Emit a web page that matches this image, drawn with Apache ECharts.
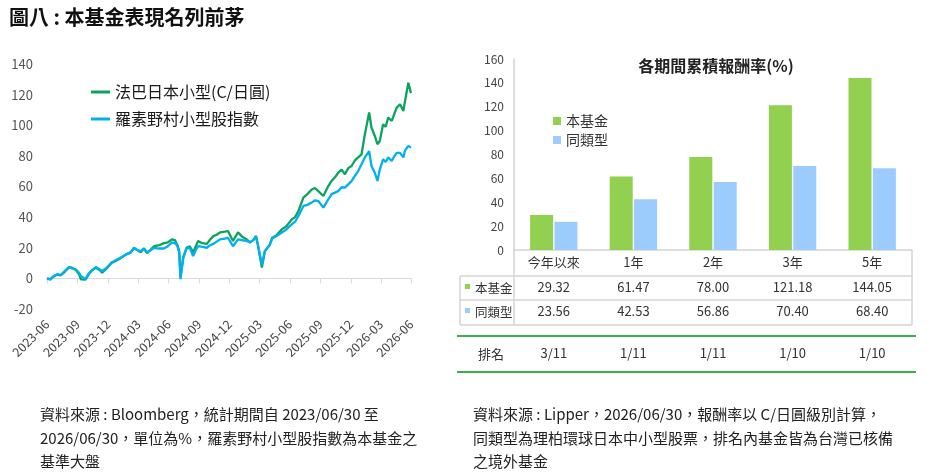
<!DOCTYPE html>
<html>
<head>
<meta charset="utf-8">
<script src="https://cdn.jsdelivr.net/npm/echarts@6/dist/echarts.min.js"></script>
<style>
  html, body { margin: 0; padding: 0; background: #fff; }
  #main { width: 928px; height: 472px; }
</style>
</head>
<body>
<div id="main"></div>
<script>
// 左圖：累積報酬走勢
var dates = [
  '2023-06-30','2023-07-10','2023-07-20','2023-07-31','2023-08-10','2023-08-21','2023-09-04','2023-09-15','2023-09-25','2023-10-05','2023-10-10','2023-10-24','2023-11-02','2023-11-10','2023-11-24','2023-12-05','2023-12-13','2023-12-27',
  '2024-01-10','2024-01-24','2024-02-07','2024-02-22','2024-03-08','2024-03-18','2024-03-28','2024-04-07','2024-04-17','2024-04-26','2024-05-08','2024-05-17','2024-05-31','2024-06-16','2024-06-28','2024-07-10','2024-07-19','2024-07-26','2024-08-01','2024-08-05','2024-08-13','2024-08-23','2024-09-02','2024-09-12','2024-09-20','2024-09-27','2024-10-10','2024-10-23','2024-11-01','2024-11-12','2024-11-22','2024-12-02','2024-12-16','2024-12-26',
  '2025-01-10','2025-01-25','2025-02-09','2025-02-20','2025-03-02','2025-03-12','2025-03-20','2025-03-26','2025-04-07','2025-04-16','2025-05-01','2025-05-08','2025-05-20','2025-06-06','2025-06-20','2025-07-06','2025-07-16','2025-07-26','2025-08-10','2025-08-22','2025-09-04','2025-09-14','2025-09-24','2025-10-09','2025-10-24','2025-11-03','2025-11-13','2025-11-23','2025-12-03','2025-12-13','2025-12-23',
  '2026-01-02','2026-01-12','2026-01-22','2026-02-01','2026-02-11','2026-02-24','2026-03-03','2026-03-13','2026-03-21','2026-03-28','2026-04-07','2026-04-15','2026-04-22','2026-05-03','2026-05-10','2026-05-18','2026-05-28','2026-06-07','2026-06-12','2026-06-22','2026-06-30'
];
var fundLine = [
  0, -0.5, 1.5, 2.5, 2.0, 4.0, 7.2, 6.5, 5.5, 2.5, -0.6, -0.8, 2.5, 4.8, 7.0, 5.5, 3.8, 6.5,
  10.0, 11.5, 13.2, 15.5, 17.0, 19.5, 18.5, 17.0, 19.5, 16.5, 19.0, 21.0, 21.5, 23.0, 23.5, 25.5, 25.0, 22.0, 18.0, 1.0, 13.0, 20.0, 21.0, 17.0, 21.0, 24.4, 23.0, 22.5, 25.0, 27.6, 28.5, 30.0, 30.5, 30.9,
  24.4, 30.0, 26.8, 25.5, 23.5, 25.0, 27.6, 22.0, 7.0, 17.8, 22.0, 26.6, 28.0, 32.0, 34.0, 38.5, 40.0, 44.0, 52.7, 55.0, 58.0, 59.0, 57.0, 53.8, 60.3, 63.6, 66.0, 69.0, 71.0, 68.0, 72.0,
  73.4, 77.0, 79.0, 81.0, 94.0, 108.3, 98.5, 93.0, 87.6, 89.7, 100.6, 99.0, 105.0, 102.8, 107.0, 111.5, 113.7, 109.3, 115.8, 127.8, 121.0
];
var indexLine = [
  0, -0.8, 1.2, 2.8, 2.2, 4.5, 7.4, 6.8, 5.8, 3.5, 1.5, -0.5, 3.0, 4.8, 7.4, 6.0, 4.8, 7.0,
  10.4, 12.0, 13.7, 15.5, 17.0, 20.0, 18.5, 17.8, 19.6, 17.0, 18.5, 20.0, 19.5, 19.5, 21.0, 23.5, 23.0, 21.5, 17.0, -0.5, 13.7, 19.5, 20.0, 14.6, 18.5, 21.0, 20.5, 20.0, 21.5, 22.5, 24.0, 25.5, 26.0, 26.5,
  21.0, 25.5, 24.9, 24.5, 23.5, 25.0, 27.6, 22.0, 9.0, 17.8, 22.0, 26.0, 27.5, 30.0, 32.0, 35.3, 37.0, 40.8, 47.3, 48.0, 49.5, 51.0, 50.5, 46.2, 51.6, 55.0, 56.0, 57.0, 59.5, 59.3, 61.4,
  63.5, 67.0, 70.1, 74.5, 79.0, 83.0, 73.4, 69.0, 63.6, 71.0, 77.8, 76.0, 79.0, 76.7, 79.5, 82.0, 82.0, 79.0, 83.5, 86.5, 85.4
];
var quarterTicks = [
  '2023-06-30','2023-09-30','2023-12-31','2024-03-31','2024-06-30','2024-09-30','2024-12-31',
  '2025-03-31','2025-06-30','2025-09-30','2025-12-31','2026-03-31','2026-06-30'
];

// 右圖：各期間累積報酬率
var periods = ['今年以來', '1年', '2年', '3年', '5年'];
var fundReturns = [29.32, 61.47, 78.00, 121.18, 144.05];
var peerReturns = [23.56, 42.53, 56.86, 70.40, 68.40];
var ranks = ['3/11', '1/11', '1/11', '1/10', '1/10'];

var FONT = '"Noto Sans CJK TC", "Noto Sans", sans-serif';
var GREEN_LINE = '#0ca45c';
var BLUE_LINE = '#00b0f0';
var GREEN_BAR = '#92d050';
var BLUE_BAR = '#9ccbfd';
var GRID_GRAY = '#d4d4d4';

var myChart = echarts.init(document.getElementById('main'));

// 日期字串轉成毫秒（UTC）
function ts(s) { return new Date(s).getTime(); }

function monthLabel(v) {
  var d = new Date(v);
  var m = d.getUTCMonth() + 1;
  return d.getUTCFullYear() + '-' + (m < 10 ? '0' + m : m);
}

function pairs(vals) {
  return dates.map(function (d, i) { return [ts(d), vals[i]]; });
}

var tickValues = quarterTicks.map(ts);
var xMin = tickValues[0];
var xMax = tickValues[tickValues.length - 1];

function rowAxis(data, offset) {
  return {
    type: 'category', gridIndex: 1, position: 'bottom', offset: offset,
    data: data,
    axisLine: { show: false }, axisTick: { show: false },
    axisLabel: { interval: 0, margin: 5, fontSize: 13, color: '#333', fontFamily: FONT }
  };
}

function hline(x1, x2, y, color, w) {
  return { type: 'line', silent: true, shape: { x1: x1, y1: y, x2: x2, y2: y }, style: { stroke: color, lineWidth: w } };
}
function vline(x, y1, y2, color, w) {
  return { type: 'line', silent: true, shape: { x1: x, y1: y1, x2: x, y2: y2 }, style: { stroke: color, lineWidth: w } };
}
function label(text, x, y, size) {
  return { type: 'text', silent: true, style: { text: text, x: x, y: y, fill: '#333', font: size + 'px ' + FONT, verticalAlign: 'middle' } };
}

var option = {
  animation: false,
  textStyle: { fontFamily: FONT },
  title: [
    { text: '圖八 : 本基金表現名列前茅', left: 4, top: 2,
      textStyle: { fontSize: 20, fontWeight: 'bold', color: '#111', fontFamily: FONT } },
    { text: '各期間累積報酬率(%)', left: 711, top: 53, textAlign: 'center',
      textStyle: { fontSize: 16, fontWeight: 'bold', color: '#222', fontFamily: FONT } },
    { text: '資料來源 : Bloomberg，統計期間自 2023/06/30 至\n2026/06/30，單位為%，羅素野村小型股指數為本基金之\n基準大盤',
      left: 35, top: 398,
      textStyle: { fontSize: 15, fontWeight: 'normal', color: '#222', lineHeight: 23.5, fontFamily: FONT } },
    { text: '資料來源 : Lipper，2026/06/30，報酬率以 C/日圓級別計算，\n同類型為理柏環球日本中小型股票，排名內基金皆為台灣已核備\n之境外基金',
      left: 468, top: 398,
      textStyle: { fontSize: 15, fontWeight: 'normal', color: '#222', lineHeight: 23.5, fontFamily: FONT } }
  ],
  legend: [
    { data: ['法巴日本小型(C/日圓)', '羅素野村小型股指數'], orient: 'vertical',
      left: 91, top: 84, padding: 0, icon: 'rect', itemWidth: 19, itemHeight: 3, itemGap: 11,
      textStyle: { fontSize: 16, color: '#1a1a1a', fontFamily: FONT } },
    { data: ['本基金', '同類型'], orient: 'vertical',
      left: 553, top: 114, padding: 0, icon: 'rect', itemWidth: 8, itemHeight: 8, itemGap: 5,
      textStyle: { fontSize: 14, color: '#333', fontFamily: FONT } }
  ],
  grid: [
    { left: 47, right: 517, top: 64, bottom: 163 },
    { left: 514, right: 16, top: 59, bottom: 222 }
  ],
  xAxis: [
    { type: 'value', gridIndex: 0, min: xMin, max: xMax, position: 'bottom',
      axisLine: { show: false, onZero: false }, axisTick: { show: false }, splitLine: { show: false },
      axisLabel: { customValues: tickValues, rotate: 45, margin: 13, fontSize: 12.5, color: '#444',
        fontFamily: FONT, formatter: monthLabel } },
    { type: 'value', gridIndex: 0, min: xMin, max: xMax, position: 'bottom',
      axisLine: { show: true, onZero: true, lineStyle: { color: '#d9d9d9', width: 1 } },
      axisTick: { show: true, customValues: tickValues, length: 5, lineStyle: { color: '#d9d9d9' } },
      axisLabel: { show: false }, splitLine: { show: false } },
    { type: 'category', gridIndex: 1, data: periods,
      axisLine: { show: true, lineStyle: { color: GRID_GRAY, width: 1.5 } },
      axisTick: { show: false },
      axisLabel: { interval: 0, margin: 6, fontSize: 13, color: '#333', fontFamily: FONT } },
    rowAxis(fundReturns.map(function (v) { return v.toFixed(2); }), 26),
    rowAxis(peerReturns.map(function (v) { return v.toFixed(2); }), 50),
    rowAxis(ranks, 92)
  ],
  yAxis: [
    { type: 'value', gridIndex: 0, min: -20, max: 140, interval: 20,
      axisLine: { show: false }, axisTick: { show: false }, splitLine: { show: false },
      axisLabel: { margin: 14, fontSize: 13, color: '#555', fontFamily: FONT } },
    { type: 'value', gridIndex: 1, min: 0, max: 160, interval: 20,
      axisLine: { show: true, lineStyle: { color: GRID_GRAY, width: 1.5 } },
      axisTick: { show: false }, splitLine: { show: false },
      axisLabel: { margin: 10, fontSize: 12, color: '#444', fontFamily: FONT } }
  ],
  series: [
    { name: '法巴日本小型(C/日圓)', type: 'line', xAxisIndex: 0, yAxisIndex: 0,
      data: pairs(fundLine), showSymbol: false, color: GREEN_LINE,
      lineStyle: { width: 2.3, color: GREEN_LINE } },
    { name: '羅素野村小型股指數', type: 'line', xAxisIndex: 0, yAxisIndex: 0,
      data: pairs(indexLine), showSymbol: false, color: BLUE_LINE,
      lineStyle: { width: 2.3, color: BLUE_LINE } },
    { name: '本基金', type: 'bar', xAxisIndex: 2, yAxisIndex: 1, data: fundReturns,
      barWidth: 23, barGap: '6%', color: GREEN_BAR, itemStyle: { color: GREEN_BAR } },
    { name: '同類型', type: 'bar', xAxisIndex: 2, yAxisIndex: 1, data: peerReturns,
      barWidth: 23, barGap: '6%', color: BLUE_BAR, itemStyle: { color: BLUE_BAR } }
  ],
  graphic: [
    // 表格框線
    vline(514, 250, 325, GRID_GRAY, 1.5),
    vline(912, 250, 325, GRID_GRAY, 1.5),
    vline(460, 276, 325, GRID_GRAY, 1.5),
    hline(460, 912, 276, GRID_GRAY, 1.5),
    hline(460, 912, 300, GRID_GRAY, 1.5),
    hline(460, 912, 325, GRID_GRAY, 1.5),
    hline(457, 916, 336, '#3cae4a', 2),
    hline(457, 916, 372, '#3cae4a', 2),
    { type: 'rect', silent: true, shape: { x: 465, y: 284, width: 5, height: 5 }, style: { fill: GREEN_BAR } },
    { type: 'rect', silent: true, shape: { x: 465, y: 308, width: 5, height: 5 }, style: { fill: BLUE_BAR } },
    label('本基金', 475, 288, 12.5),
    label('同類型', 475, 312, 12.5),
    label('排名', 478, 354, 13)
  ]
};

myChart.setOption(option);
</script>
</body>
</html>
